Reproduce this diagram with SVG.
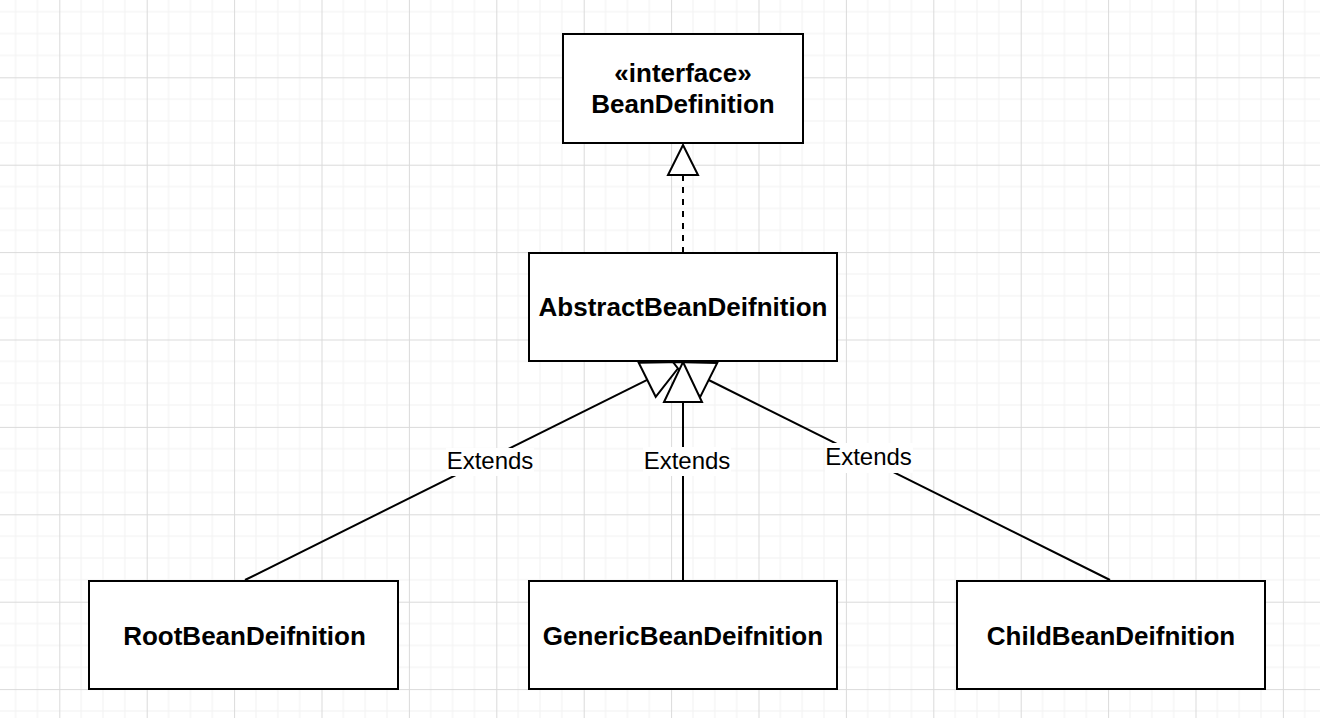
<svg xmlns="http://www.w3.org/2000/svg" width="1320" height="718" viewBox="0 0 1320 718">
  <defs>
    <pattern id="grid" x="-28.1" y="-10.1" width="87.4" height="87.4" patternUnits="userSpaceOnUse">
      <path d="M21.85 0V87.4M43.7 0V87.4M65.55 0V87.4M0 21.85H87.4M0 43.7H87.4M0 65.55H87.4" stroke="#f2f2f2" stroke-width="1" fill="none"/>
      <path d="M0.5 0V87.4M0 0.5H87.4" stroke="#dadada" stroke-width="1" fill="none"/>
    </pattern>
    <style>
      .box { fill: #ffffff; stroke: #000000; stroke-width: 2; }
      .title { font-family: "Liberation Sans", Arial, sans-serif; font-weight: bold; font-size: 26px; text-anchor: middle; fill: #000; }
      .edge { fill: none; stroke: #000; stroke-width: 2; }
      .dashed { stroke-dasharray: 6 6; }
      .arrow { fill: #ffffff; stroke: #000; stroke-width: 2; stroke-linejoin: miter; }
      .lblbg { fill: #ffffff; }
      .lbl { font-family: "Liberation Sans", Arial, sans-serif; font-size: 24px; text-anchor: middle; fill: #000; }
    </style>
  </defs>
  <rect width="1320" height="718" fill="#ffffff"/>
  <rect width="1320" height="718" fill="url(#grid)"/>

  <g id="connectors">
    <!-- Realization: AbstractBeanDeifnition -> BeanDefinition -->
    <line class="edge dashed" x1="683" y1="253" x2="683" y2="175"/>
    <polygon class="arrow" points="683,145 698,175 668,175"/>
    <!-- Extends: Root -> Abstract -->
    <line class="edge" x1="245" y1="580" x2="647.2" y2="379.8"/>
    <!-- Extends: Generic -> Abstract -->
    <line class="edge" x1="683" y1="580" x2="683" y2="402"/>
    <!-- Extends: Child -> Abstract -->
    <line class="edge" x1="1110" y1="580" x2="708.7" y2="380"/>
    <g id="labels">
      <rect class="lblbg" x="446" y="448" width="88" height="28"/>
      <text class="lbl" x="490" y="469">Extends</text>
      <rect class="lblbg" x="643" y="447" width="88" height="29"/>
      <text class="lbl" x="687" y="469">Extends</text>
      <rect class="lblbg" x="825" y="443" width="88" height="30"/>
      <text class="lbl" x="868.5" y="465">Extends</text>
    </g>
  </g>

  <g id="BeanDefinition">
    <rect class="box" x="563" y="34" width="240" height="109"/>
    <text class="title" x="683" y="82">«interface»</text>
    <text class="title" x="683" y="113">BeanDefinition</text>
  </g>

  <g id="AbstractBeanDeifnition">
    <rect class="box" x="529" y="253" width="308" height="108"/>
    <text class="title" x="683" y="316">AbstractBeanDeifnition</text>
  </g>

  <g id="arrowheads">
    <polygon class="arrow" points="683,362 655.7,396.8 638.7,362.8"/>
    <polygon class="arrow" points="673,362 717.2,363 700.2,397"/>
    <polygon class="arrow" points="683,362 702,402 664,402"/>
  </g>

  <g id="RootBeanDeifnition">
    <rect class="box" x="89" y="581" width="309" height="108"/>
    <text class="title" x="244.5" y="645">RootBeanDeifnition</text>
  </g>

  <g id="GenericBeanDeifnition">
    <rect class="box" x="529" y="581" width="308" height="108"/>
    <text class="title" x="683" y="645">GenericBeanDeifnition</text>
  </g>

  <g id="ChildBeanDeifnition">
    <rect class="box" x="957" y="581" width="308" height="108"/>
    <text class="title" x="1111" y="645">ChildBeanDeifnition</text>
  </g>
</svg>
